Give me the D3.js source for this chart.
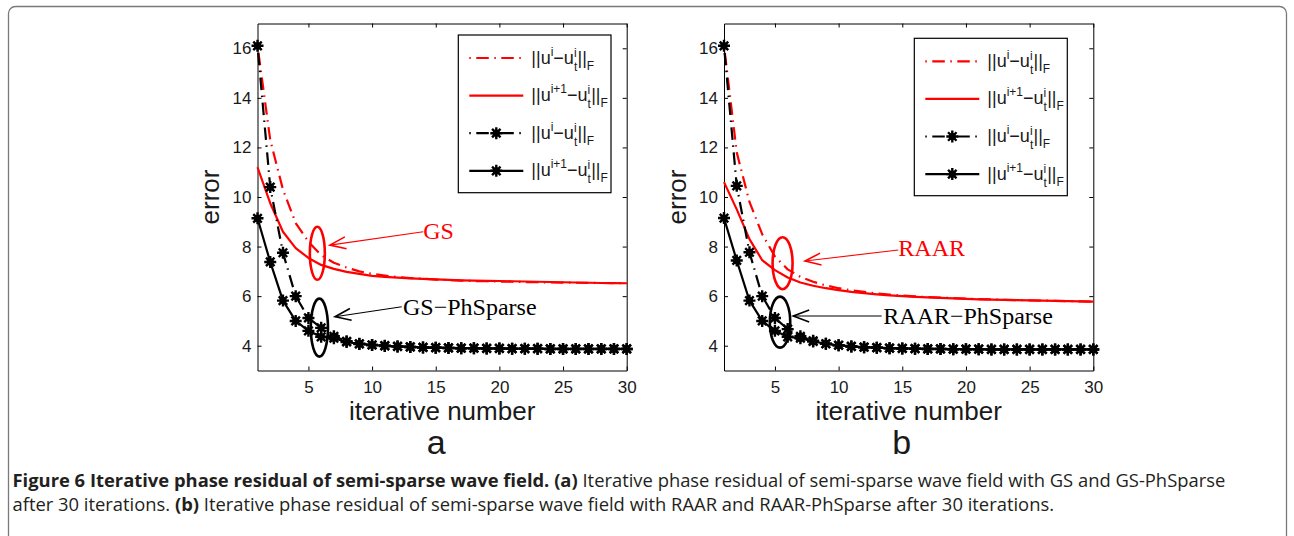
<!DOCTYPE html>
<html><head><meta charset="utf-8">
<script src="https://cdn.jsdelivr.net/npm/d3@7"></script>
<style>html,body{margin:0;padding:0;background:#fff;} svg{display:block}</style>
</head><body>
<svg id="chart" width="1294" height="536"></svg>
<script>
// ---------------- data ----------------
const iterations = d3.range(1, 31);
const xTicks = [5, 10, 15, 20, 25, 30];
const yTicks = [4, 6, 8, 10, 12, 14, 16];

// panel a : GS and GS-PhSparse
const gsResidual =       [16.1, 12.3, 10.3, 8.95, 8.2, 7.65, 7.35, 7.15, 7.0, 6.9, 6.83, 6.77, 6.73, 6.7, 6.67, 6.65, 6.63, 6.61, 6.6, 6.59, 6.58, 6.57, 6.56, 6.55, 6.545, 6.54, 6.535, 6.53, 6.525, 6.52];
const gsNextResidual =   [11.2, 9.75, 8.6, 7.94, 7.54, 7.26, 7.1, 6.98, 6.9, 6.82, 6.78, 6.75, 6.72, 6.7, 6.68, 6.66, 6.64, 6.63, 6.62, 6.61, 6.6, 6.59, 6.58, 6.57, 6.56, 6.55, 6.54, 6.53, 6.525, 6.52];
const gsPhResidual =     [16.1, 10.4, 7.75, 6.0, 5.12, 4.72, 4.38, 4.18, 4.08, 4.03, 4.0, 3.97, 3.95, 3.93, 3.92, 3.91, 3.9, 3.9, 3.89, 3.89, 3.88, 3.88, 3.88, 3.87, 3.87, 3.87, 3.87, 3.87, 3.87, 3.87];
const gsPhNextResidual = [9.14, 7.38, 5.82, 5.0, 4.6, 4.36, 4.3, 4.15, 4.07, 4.03, 3.99, 3.97, 3.95, 3.93, 3.92, 3.91, 3.9, 3.9, 3.89, 3.89, 3.88, 3.88, 3.88, 3.87, 3.87, 3.87, 3.87, 3.87, 3.87, 3.87];

// panel b : RAAR and RAAR-PhSparse
const raarResidual =       [16.1, 11.8, 9.8, 8.5, 7.6, 7.08, 6.78, 6.58, 6.43, 6.32, 6.24, 6.17, 6.11, 6.06, 6.02, 5.99, 5.96, 5.94, 5.92, 5.9, 5.88, 5.87, 5.85, 5.84, 5.83, 5.82, 5.81, 5.8, 5.79, 5.78];
const raarNextResidual =   [10.6, 9.5, 8.3, 7.45, 7.05, 6.75, 6.55, 6.42, 6.32, 6.24, 6.17, 6.12, 6.07, 6.03, 6.0, 5.97, 5.95, 5.93, 5.91, 5.89, 5.87, 5.86, 5.85, 5.84, 5.83, 5.82, 5.81, 5.8, 5.79, 5.78];
const raarPhResidual =     [16.1, 10.45, 7.77, 6.0, 5.12, 4.67, 4.38, 4.2, 4.08, 4.02, 3.97, 3.94, 3.92, 3.9, 3.89, 3.88, 3.87, 3.87, 3.86, 3.86, 3.86, 3.85, 3.85, 3.85, 3.85, 3.85, 3.85, 3.85, 3.85, 3.85];
const raarPhNextResidual = [9.15, 7.44, 5.82, 5.0, 4.6, 4.36, 4.3, 4.17, 4.08, 4.02, 3.97, 3.94, 3.92, 3.9, 3.89, 3.88, 3.87, 3.87, 3.86, 3.86, 3.86, 3.85, 3.85, 3.85, 3.85, 3.85, 3.85, 3.85, 3.85, 3.85];

const legendSuperscripts = ["i", "i+1", "i", "i+1"];
const panelLabels = ["a", "b"];
const methodLabels = ["GS", "RAAR"];
const sparseLabels = ["GS\u2212PhSparse", "RAAR\u2212PhSparse"];
const xLabel = "iterative number";
const yLabel = "error";
const captionBold1 = "Figure 6 Iterative phase residual of semi-sparse wave field. (a)";
const captionText1 = " Iterative phase residual of semi-sparse wave field with GS and GS-PhSparse";
const captionText2a = "after 30 iterations. ";
const captionBold2 = "(b)";
const captionText2b = " Iterative phase residual of semi-sparse wave field with RAAR and RAAR-PhSparse after 30 iterations.";

// ---------------- drawing ----------------
const svg = d3.select("#chart");
svg.append("rect").attr("width", 1294).attr("height", 536).attr("fill", "#fff");
svg.append("rect").attr("x", 8.5).attr("y", 6.5).attr("width", 1278).attr("height", 600)
  .attr("rx", 7).attr("fill", "none").attr("stroke", "#7a7a7a").attr("stroke-width", 1.3);

const seriesStyles = [
  {color: "#ff0000", dash: "1.5,5.5,12.5,5.5", marker: false},
  {color: "#ff0000", dash: null, marker: false},
  {color: "#000000", dash: "1.5,5.5,12.5,5.5", marker: true},
  {color: "#000000", dash: null, marker: true}
];

const starType = {
  draw(ctx, size) {
    const r = Math.sqrt(size) / 2, d = r * 0.7071;
    ctx.moveTo(-r, 0); ctx.lineTo(r, 0);
    ctx.moveTo(0, -r); ctx.lineTo(0, r);
    ctx.moveTo(-d, -d); ctx.lineTo(d, d);
    ctx.moveTo(-d, d); ctx.lineTo(d, -d);
  }
};
const starPath = d3.symbol().type(starType).size(144)();

function drawStar(g, cx, cy) {
  const s = g.append("g").attr("transform", `translate(${cx},${cy})`);
  s.append("circle").attr("r", 3.6).attr("fill", "#000");
  s.append("path").attr("d", starPath).attr("stroke", "#000").attr("stroke-width", 2.4).attr("fill", "none");
}

function styleAxis(sel) {
  sel.select(".domain").attr("stroke", "#000").attr("stroke-width", 1);
  sel.selectAll(".tick line").attr("stroke", "#000").attr("stroke-width", 1);
  sel.selectAll(".tick text").attr("font-family", "'Liberation Sans', Arial, sans-serif")
    .attr("font-size", 17).attr("fill", "#1a1a1a");
}

function arrow(g, x1, y1, x2, y2, color) {
  g.append("line").attr("x1", x1).attr("y1", y1).attr("x2", x2).attr("y2", y2)
    .attr("stroke", color).attr("stroke-width", 1.1);
  const ang = Math.atan2(y2 - y1, x2 - x1), L = 17, A = 0.36;
  const p1 = [x2 - L * Math.cos(ang - A), y2 - L * Math.sin(ang - A)];
  const p2 = [x2 - L * Math.cos(ang + A), y2 - L * Math.sin(ang + A)];
  g.append("path").attr("d", `M${p1[0]},${p1[1]}L${x2},${y2}L${p2[0]},${p2[1]}`)
    .attr("fill", "none").attr("stroke", color).attr("stroke-width", 1.6);
}

function legendLabel(t, sup) {
  t.append("tspan").attr("font-size", 18).text("||u");
  t.append("tspan").attr("font-size", 12).attr("dy", -8).text(sup);
  t.append("tspan").attr("font-size", 18).attr("dy", 8).text("\u2212u");
  t.append("tspan").attr("font-size", 12).attr("dy", 7).text("t");
  t.append("tspan").attr("font-size", 12).attr("dx", -3.3).attr("dy", -14).text("i");
  t.append("tspan").attr("font-size", 18).attr("dx", 0.9).attr("dy", 7).text("||");
  t.append("tspan").attr("font-size", 12).attr("dy", 6).text("F");
}

const panels = [
  {left: 257.5, top: 23.5, width: 369.2, height: 347,
   series: [gsResidual, gsNextResidual, gsPhResidual, gsPhNextResidual],
   legend: {x: 200.8, y: 11.5, w: 152.7, h: 157.7},
   redEllipse: {cx: 5.7, cy: 7.73, rx: 7.5, ry: 26.5},
   blackEllipse: {cx: 5.86, cy: 4.73, rx: 8.6, ry: 29},
   redArrow: {from: [14.02, 8.6], to: [6.69, 8.06]},
   blackArrow: {from: [12.33, 5.57], to: [7.09, 5.17]},
   redText: [14.02, 8.29], blackText: [12.43, 5.24],
   labelShift: -6},
  {left: 724, top: 23.5, width: 369.3, height: 347,
   series: [raarResidual, raarNextResidual, raarPhResidual, raarPhNextResidual],
   legend: {x: 190.3, y: 14.8, w: 153, h: 157.4},
   redEllipse: {cx: 5.6, cy: 7.33, rx: 10, ry: 26},
   blackEllipse: {cx: 5.4, cy: 4.95, rx: 10.2, ry: 25.5},
   redArrow: {from: [14.69, 7.86], to: [7.36, 7.42]},
   blackArrow: {from: [13.38, 5.2], to: [6.44, 5.2]},
   redText: [14.69, 7.6], blackText: [13.51, 4.87],
   labelShift: -7}
];

panels.forEach((p, pi) => {
  const g = svg.append("g").attr("transform", `translate(${p.left},${p.top})`);
  const x = d3.scaleLinear().domain([1, 30]).range([0, p.width]);
  const y = d3.scaleLinear().domain([3, 17]).range([p.height, 0]);

  g.append("g").attr("transform", `translate(0,${p.height})`)
    .call(d3.axisBottom(x).tickValues(xTicks).tickSize(-4).tickSizeOuter(0).tickPadding(10)).call(styleAxis);
  g.append("g").call(d3.axisTop(x).tickValues(xTicks).tickSize(-4).tickSizeOuter(0).tickFormat(() => "")).call(styleAxis);
  g.append("g").call(d3.axisLeft(y).tickValues(yTicks).tickSize(-4).tickSizeOuter(0).tickPadding(6)).call(styleAxis);
  g.append("g").attr("transform", `translate(${p.width},0)`)
    .call(d3.axisRight(y).tickValues(yTicks).tickSize(-4).tickSizeOuter(0).tickFormat(() => "")).call(styleAxis);

  // axis titles
  svg.append("text").attr("x", p.left + p.width / 2).attr("y", 420).attr("text-anchor", "middle")
    .attr("font-family", "'Liberation Sans', Arial, sans-serif").attr("font-size", 26).attr("fill", "#1a1a1a").text(xLabel);
  svg.append("text").attr("transform", `translate(${p.left - 38.5},${p.top + p.height / 2}) rotate(-90)`)
    .attr("text-anchor", "middle").attr("font-family", "'Liberation Sans', Arial, sans-serif")
    .attr("font-size", 26).attr("fill", "#1a1a1a").text(yLabel);
  svg.append("text").attr("x", p.left + p.width / 2 + p.labelShift).attr("y", 453.5).attr("text-anchor", "middle")
    .attr("font-family", "'Liberation Sans', Arial, sans-serif").attr("font-size", 34).attr("fill", "#1a1a1a").text(panelLabels[pi]);

  // series
  const line = d3.line().x((d, i) => x(iterations[i])).y(d => y(d));
  p.series.forEach((vals, si) => {
    const st = seriesStyles[si];
    g.append("path").attr("d", line(vals)).attr("fill", "none").attr("stroke", st.color)
      .attr("stroke-width", 2.2).attr("stroke-dasharray", st.dash).attr("stroke-linejoin", "round");
  });
  p.series.forEach((vals, si) => {
    const st = seriesStyles[si];
    if (st.marker) vals.forEach((v, i) => drawStar(g, x(iterations[i]), y(v)));
  });

  // annotations
  [[p.redEllipse, "#ff0000"], [p.blackEllipse, "#000"]].forEach(([e, c]) => {
    g.append("ellipse").attr("cx", x(e.cx)).attr("cy", y(e.cy)).attr("rx", e.rx).attr("ry", e.ry)
      .attr("fill", "none").attr("stroke", c).attr("stroke-width", 2.6);
  });
  arrow(g, x(p.redArrow.from[0]), y(p.redArrow.from[1]), x(p.redArrow.to[0]), y(p.redArrow.to[1]), "#ff0000");
  arrow(g, x(p.blackArrow.from[0]), y(p.blackArrow.from[1]), x(p.blackArrow.to[0]), y(p.blackArrow.to[1]), "#000");
  g.append("text").attr("x", x(p.redText[0])).attr("y", y(p.redText[1]))
    .attr("font-family", "'Liberation Serif', 'Times New Roman', serif").attr("font-size", 24).attr("fill", "#ff0000").text(methodLabels[pi]);
  g.append("text").attr("x", x(p.blackText[0])).attr("y", y(p.blackText[1]))
    .attr("font-family", "'Liberation Serif', 'Times New Roman', serif").attr("font-size", 24).attr("fill", "#000").text(sparseLabels[pi]);

  // legend
  const lg = g.append("g").attr("transform", `translate(${p.legend.x},${p.legend.y})`);
  lg.append("rect").attr("width", p.legend.w).attr("height", p.legend.h).attr("fill", "#fff")
    .attr("stroke", "#000").attr("stroke-width", 1.2);
  seriesStyles.forEach((st, si) => {
    const ly = 23 + si * 37.6;
    lg.append("line").attr("x1", 11).attr("x2", 65).attr("y1", ly).attr("y2", ly)
      .attr("stroke", st.color).attr("stroke-width", 2.2).attr("stroke-dasharray", st.dash);
    if (st.marker) drawStar(lg, 38, ly);
    const t = lg.append("text").attr("x", 73).attr("y", ly + 5.5)
      .attr("font-family", "'Liberation Sans', Arial, sans-serif").attr("fill", "#1a1a1a");
    legendLabel(t, legendSuperscripts[si]);
  });
});

// caption
const capFont = "'Open Sans', 'Noto Sans', sans-serif";
function captionLine(y, parts) {
  const t = svg.append("text").attr("x", 12.5).attr("y", y).attr("font-family", capFont)
    .attr("font-size", 16).attr("fill", "#231f20").style("white-space", "pre");
  parts.forEach(([txt, bold]) => t.append("tspan").attr("font-weight", bold ? 700 : 400).text(txt));
  return t;
}
const c1 = captionLine(487, [[captionBold1, true], [captionText1, false]]);
const c2 = captionLine(510.5, [[captionText2a, false], [captionBold2, true], [captionText2b, false]]);
const w1 = c1.node().getComputedTextLength(), w2 = c2.node().getComputedTextLength();
const fs = 16 * ((1228 - 12.5) / w1 + (1053 - 12.5) / w2) / 2;
c1.attr("font-size", fs); c2.attr("font-size", fs);
</script>
</body></html>
